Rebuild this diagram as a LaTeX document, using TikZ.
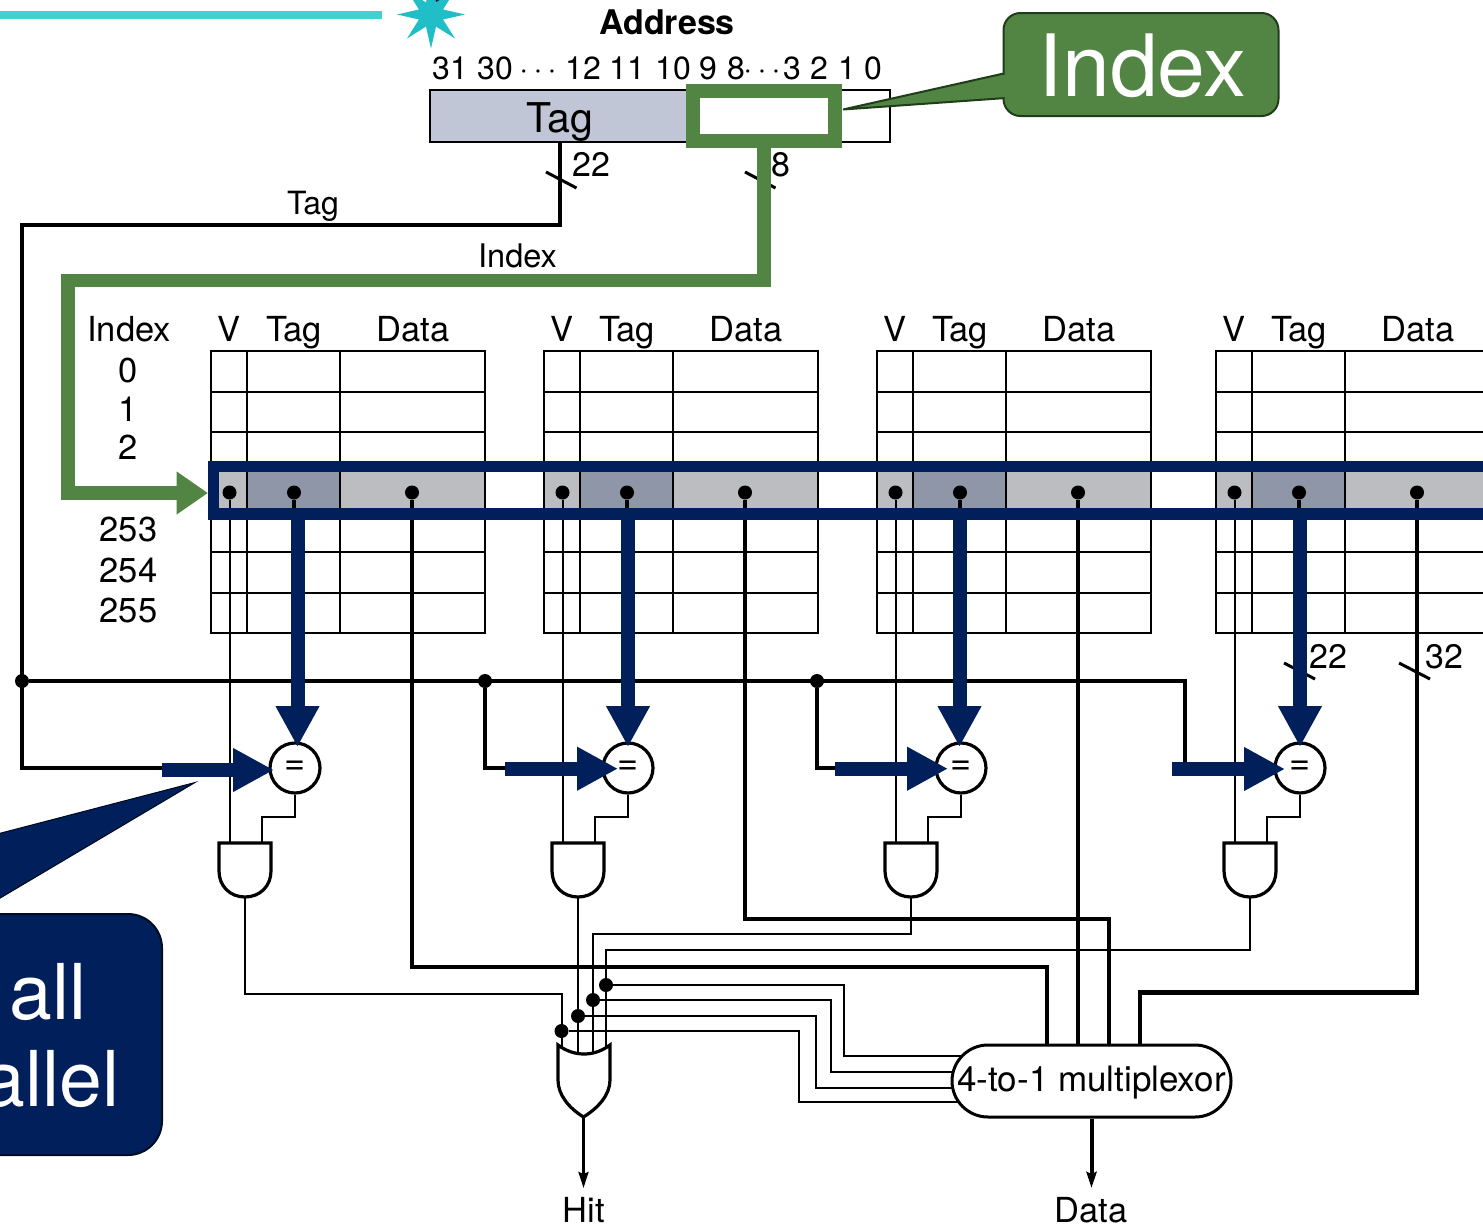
\documentclass[tikz,border=0pt]{standalone}
\usepackage{fontspec}
\setmainfont{TeX Gyre Heros}
\usetikzlibrary{arrows.meta,shapes.geometric}
\definecolor{navyc}{HTML}{001F5B}
\definecolor{greenc}{HTML}{528443}
\definecolor{greenl}{HTML}{1F3D1A}
\definecolor{fieldc}{HTML}{C0C6D6}
\definecolor{cellc}{HTML}{BCBDC1}
\definecolor{tagc}{HTML}{8F96A8}
\definecolor{tealc}{HTML}{44D0D2}
\definecolor{starc}{HTML}{20BFC8}
\newcommand{\fsz}[1]{\fontsize{#1}{#1}\selectfont}
\tikzset{
  lab/.style={anchor=base,inner sep=0pt,font=\fsz{34.5}},
  bit/.style={anchor=base,inner sep=0pt,font=\fsz{32}},
  thin wire/.style={line width=2pt,black},
  thick wire/.style={line width=4.2pt,black},
  gridline/.style={line width=2pt,black},
  tickmark/.style={line width=3pt,black},
  dotc/.style={circle,fill=black,inner sep=0pt,minimum size=14pt},
  gatec/.style={line width=3.2pt,black,fill=white},
  navy head/.style={line width=14pt,navyc,-{Triangle[length=41pt,width=41pt]}},
  greenw/.style={line width=13.5pt,greenc},
}
\begin{document}
\begin{tikzpicture}[x=1pt,y=-1pt,line join=miter]
\useasboundingbox (0,0) rectangle (1483,1226);
\clip (0,0) rectangle (1483,1226);

% top decoration
\fill[navyc] (431,-4) rectangle (447,1.5);
\coordinate (tealstart) at (-5,15);
\node[star,star points=8,star point ratio=2.6,fill=starc,inner sep=0pt,minimum size=68pt] (burst) at (431,14.5) {};
\draw[line width=7.5pt,tealc] (tealstart) -- (382,15);

% address field
\fill[fieldc] (430,90) rectangle (687,142);
\draw[gridline] (430,90) rectangle (890,142);
\coordinate (ftag) at (560,142);
\coordinate (find) at (764,141);
\node[font=\fsz{34}\bfseries,anchor=base,inner sep=0pt] (addrlab) at (667,34.5) {Address};
\foreach \t/\x [count=\i] in {31/450,30/495,12/583,11/627,10/673,9/708,8/736,3/792,2/819,1/847,0/873}
  \node[bit] (bit\i) at (\x,79) {\t};
\node[bit] (dotsA) at (538,79) {\textperiodcentered\hspace{5.2pt}\textperiodcentered\hspace{5.2pt}\textperiodcentered};
\node[bit] (dotsB) at (762,79) {\textperiodcentered\hspace{5.2pt}\textperiodcentered\hspace{5.2pt}\textperiodcentered};
\node[anchor=base,inner sep=0pt,font=\fsz{41}] (tagfield) at (560,132.5) {Tag};

% tables
\foreach \n/\L in {1/211,2/544,3/877,4/1216}{
  \fill[cellc] (\L,472) rectangle ({\L+36},509);
  \fill[tagc] ({\L+36},472) rectangle ({\L+129},509);
  \fill[cellc] ({\L+129},472) rectangle ({\L+274},509);
  \draw[gridline] (\L,351) rectangle ({\L+274},633);
  \foreach \c in {36,129} \draw[gridline] ({\L+\c},351) -- ({\L+\c},633);
  \foreach \r in {392,432,552,593} \draw[gridline] (\L,\r) -- ({\L+274},\r);
  \node[lab] (hv\n) at ({\L+18},341) {V};
  \node[lab] (ht\n) at ({\L+83},341) {Tag};
  \node[lab] (hd\n) at ({\L+202},341) {Data};
  \node[dotc] (vdot\n) at ({\L+18.5},492.5) {};
  \node[dotc] (tdot\n) at ({\L+83},492.5) {};
  \node[dotc] (ddot\n) at ({\L+201},492.5) {};
  \node[gatec,draw,circle,inner sep=0pt,minimum size=50pt,font=\fsz{36}] (eq\n) at ({\L+84},768) {=};
  \coordinate (andin\n) at ({\L+18.5},843);
  \coordinate (andr\n) at ({\L+51},843);
  \coordinate (andout\n) at ({\L+34},897);
  \draw[thin wire] (vdot\n) -- (andin\n);
  \draw[thick wire] (tdot\n) -- ({\L+83},525);
  \draw[thin wire] (eq\n.south) -- ({\L+84},817) -- (\L+51,817) -- (andr\n);
  \draw[gatec] ({\L+8},843) -- ({\L+60},843) -- ({\L+60},871)
     .. controls ({\L+60},886) and ({\L+49},897) .. (andout\n)
     .. controls ({\L+19},897) and ({\L+8},886) .. ({\L+8},871) -- cycle;
}
\node[lab] (hidx) at (129,341) {Index};
\foreach \t/\y [count=\i] in {0/382,1/421,2/459.5,253/541.5,254/582.5,255/622}
  \node[lab] (row\i) at (128.5,\y) {\t};

% tag wires and comparand bus
\node[dotc] (jbus) at (22,681) {};
\node[dotc] (j2) at (485,681) {};
\node[dotc] (j3) at (817,681) {};
\coordinate (in1) at (190,768);
\coordinate (in2) at (520,768);
\coordinate (in3) at (850,768);
\coordinate (in4) at (1172,768);
\draw[thick wire] (ftag) -- (560,225) -- (22,225) -- (22,768) -- (in1);
\draw[thick wire] (jbus) -- (1185,681) -- (1185,768) -- (in4);
\draw[thick wire] (j2) -- (485,768) -- (in2);
\draw[thick wire] (j3) -- (817,768) -- (in3);
\node[anchor=base,inner sep=0pt,font=\fsz{32}] (ltag) at (313,214.5) {Tag};
\node[anchor=base,inner sep=0pt,font=\fsz{32.5}] (lidx) at (517.5,267.5) {Index};

% width marks
\draw[tickmark] (546,172) -- (576.5,188);
\draw[tickmark] (745,172) -- (775.5,188);
\draw[tickmark] (1284,663) -- (1315,679);
\draw[tickmark] (1399,663) -- (1430,679);
\node[anchor=base,inner sep=0pt,font=\fsz{34}] (w22a) at (591,176.5) {22};
\node[anchor=base,inner sep=0pt,font=\fsz{34}] (w8) at (781,176.5) {8};
\node[anchor=base,inner sep=0pt,font=\fsz{34}] (w22b) at (1328,668.5) {22};
\node[anchor=base,inner sep=0pt,font=\fsz{34}] (w32) at (1444,668.5) {32};

% data wires
\coordinate (mt1) at (1047,1050);
\coordinate (mt3) at (1109,1050);
\coordinate (mt4) at (1140,1050);
\draw[thick wire] (ddot1) -- (ddot1 |- 0,967) -- (1047,967) -- (mt1);
\draw[thick wire] (ddot2) -- (ddot2 |- 0,919) -- (1109,919) -- (mt3);
\draw[thick wire] (ddot3) -- (ddot3 |- 0,1050);
\draw[thick wire] (ddot4) -- (ddot4 |- 0,992.5) -- (1140,992.5) -- (mt4);

% hit logic
\node[dotc] (hd1) at (561.5,1031) {};
\node[dotc] (hd2) at (578,1016) {};
\node[dotc] (hd3) at (593,1000) {};
\node[dotc] (hd4) at (606,985) {};
\coordinate (ors1) at (561.5,1050);
\coordinate (ors2) at (578,1053);
\coordinate (ors3) at (593,1053);
\coordinate (ors4) at (606,1049);
\coordinate (m1) at (975,1102);
\coordinate (m2) at (975,1088);
\coordinate (m3) at (975,1072);
\coordinate (m4) at (975,1056);
\draw[thin wire] (andout1) -- (245,993.5) -- (561.5,993.5) -- (ors1);
\draw[thin wire] (andout2) -- (ors2);
\draw[thin wire] (andout3) -- (911,934) -- (593,934) -- (ors3);
\draw[thin wire] (andout4) -- (1250,950) -- (606,950) -- (ors4);
\draw[thin wire] (hd1) -- (799,1031) -- (799,1102) -- (m1);
\draw[thin wire] (hd2) -- (815.5,1016) -- (815.5,1088) -- (m2);
\draw[thin wire] (hd3) -- (831,1000) -- (831,1072) -- (m3);
\draw[thin wire] (hd4) -- (843.5,985) -- (843.5,1056) -- (m4);
\draw[gatec] (558,1045) .. controls (574,1057) and (594,1057) .. (610,1045)
  -- (610,1080) .. controls (610,1095) and (598,1108) .. (583.5,1117)
  .. controls (569,1108) and (558,1095) .. (558,1080) -- cycle;
\coordinate (orout) at (583.5,1117);

% multiplexor
\node[draw=black,line width=3pt,fill=white,rectangle,rounded corners=36pt,minimum width=279pt,minimum height=72pt,inner sep=0pt] (mux) at (1091.5,1081) {};
\node[anchor=base,inner sep=0pt,font=\fsz{35}] (muxlab) at (1091.5,1091) {4-to-1 multiplexor};
\node[lab] (hitlab) at (584,1222.5) {Hit};
\node[lab] (datalab) at (1091,1222.5) {Data};
\coordinate (hitend) at (583.5,1188);
\coordinate (dataend) at (1091.5,1188);
\draw[line width=2.7pt,-{Stealth[length=16pt,width=10pt,inset=2pt]}] (orout) -- (hitend);
\draw[line width=4pt,-{Stealth[length=16pt,width=10pt,inset=2pt]}] (mux.south) -- (dataend);

% navy row frame
\coordinate (frameTL) at (213.5,466.5);
\coordinate (frameBR) at (1510,514);
\draw[line width=11.5pt,navyc] (frameTL) rectangle (frameBR);

% navy arrows
\foreach \n/\hs/\ht/\vx/\hy in {1/162/274/297.5/770,2/505/618/628/768.7,3/835/948/959.5/768.7,4/1172/1285/1300/769}{
  \coordinate (vs\n) at (\vx,519);
  \coordinate (ve\n) at (\vx,747);
  \coordinate (hs\n) at (\hs,\hy);
  \coordinate (he\n) at (\ht,\hy);
  \draw[navy head] (vs\n) -- (ve\n);
  \draw[navy head] (hs\n) -- (he\n);
}

% green index path
\coordinate (gend) at (208,493);
\draw[greenw,-{Triangle[length=31.5pt,width=41pt]}] (764,145) -- (764,280.5) -- (68,280.5) -- (68,493) -- (gend);
\draw[line width=14pt,greenc] (693,90.5) rectangle (835,140.5);

% navy callout
\coordinate (navytip) at (195,782.5);
\coordinate (navya) at (-20,838.5);
\coordinate (navyb) at (-20,910);
\fill[navyc,draw=black!70!navyc,line width=1pt] (navytip) -- (navya) -- (navyb) -- cycle;
\node[draw=black!60!navyc,fill=navyc,line width=2pt,rectangle,rounded corners=34pt,minimum width=262pt,minimum height=241pt,inner sep=0pt] (navybox) at (31,1034.5) {};
\node[anchor=base,inner sep=0pt,font=\fsz{77},text=white] (cl1) at (48,1019) {all};
\node[anchor=base east,inner sep=0pt,font=\fsz{77},text=white] (cl2) at (120,1106.5) {allel};

% green callout
\coordinate (greentip) at (843,109.5);
\coordinate (greena) at (1006,73);
\coordinate (greenb) at (1006,98);
\draw[fill=greenc,draw=greenl,line width=2pt] (greentip) -- (greena) -- (greenb) -- cycle;
\node[draw=greenl,fill=greenc,line width=2pt,rectangle,rounded corners=17pt,minimum width=275pt,minimum height=103pt,inner sep=0pt] (idxbox) at (1141,64.5) {};
\fill[greenc] (1001,74.5) rectangle (1008,96.5);
\node[anchor=base,inner sep=0pt,font=\fsz{86},text=white] (idxlab) at (1142.5,96) {Index};
\end{tikzpicture}
\end{document}
